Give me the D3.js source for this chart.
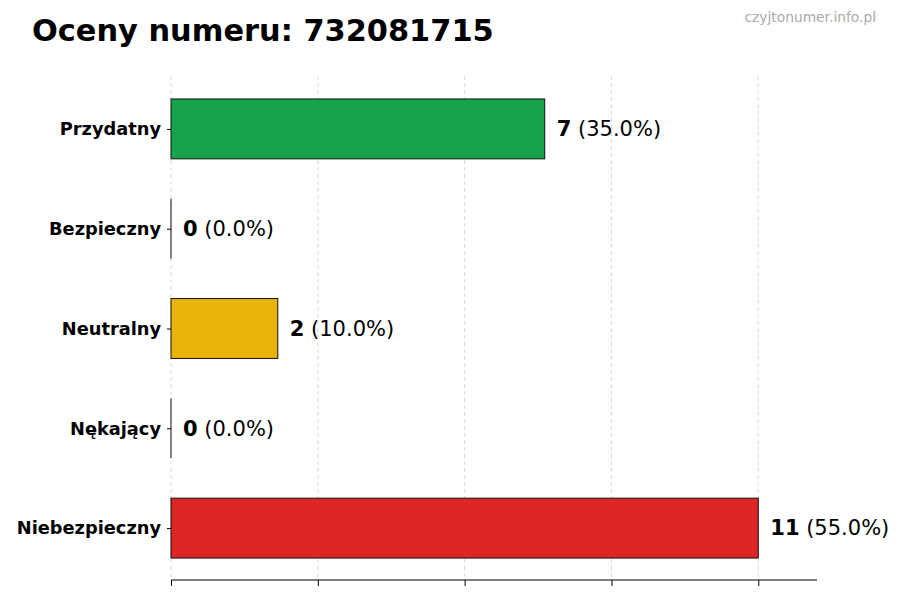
<!DOCTYPE html>
<html><head><meta charset="utf-8">
<script src="https://cdn.jsdelivr.net/npm/d3@7"></script>
<style>body{margin:0;background:#fff}svg{display:block}</style>
</head><body><svg id="c" width="900" height="600"></svg>
<script>
const categories = ["Przydatny","Bezpieczny","Neutralny","Nękający","Niebezpieczny"];
const values = [7,0,2,0,11];
const percents = ["35.0%","0.0%","10.0%","0.0%","55.0%"];
const colors = ["#16a34a","#16a34a","#eab308","#eab308","#dc2626"];
const title = "Oceny numeru: 732081715";
const watermark = "czyjtonumer.info.pl";

const svg = d3.select("#c");
const font = "'DejaVu Sans', sans-serif";
const maxV = d3.max(values);
const x = d3.scaleLinear().domain([0, maxV*1.1]).range([171, 817]);
const y = d3.scaleLinear().domain([-0.53, 4.52]).range([76, 580]);
const barH = y(0.3) - y(-0.3);
const tickVals = d3.range(5).map(i => i*maxV/4);

// grid
svg.append("g").selectAll("line").data(tickVals).join("line")
  .attr("x1", d=>x(d)).attr("x2", d=>x(d)).attr("y1", 76).attr("y2", 580)
  .attr("stroke", "#d0d0d0").attr("stroke-width", 0.8).attr("stroke-dasharray", "4,3");

// bars
const bars = svg.append("g");
bars.selectAll("rect").data(values).join("rect")
  .attr("x", x(0)).attr("y", (d,i)=>y(i)-barH/2)
  .attr("width", d=>x(d)-x(0)).attr("height", barH)
  .attr("fill", (d,i)=>colors[i]).attr("stroke", "#111").attr("stroke-width", 1);
// edges of zero-width bars
bars.selectAll("line").data(values.map((v,i)=>({v,i})).filter(d=>d.v===0)).join("line")
  .attr("x1", d=>x(d.v)).attr("x2", d=>x(d.v))
  .attr("y1", d=>y(d.i)-barH/2).attr("y2", d=>y(d.i)+barH/2)
  .attr("stroke", "#111").attr("stroke-width", 1);

// bottom axis
const xAxis = d3.axisBottom(x).tickValues(tickVals).tickFormat("").tickSizeOuter(0).tickSize(6);
const gx = svg.append("g").attr("transform","translate(0,580)").call(xAxis);
gx.select(".domain").remove();
gx.append("line").attr("x1", x.range()[0]).attr("x2", x.range()[1]).attr("stroke","#000").attr("stroke-width",1.2);
gx.selectAll(".tick line").attr("stroke","#000");

// left axis (ticks only)
const yAxis = d3.axisLeft(y).tickValues(d3.range(categories.length)).tickFormat(i=>categories[i]).tickSize(4).tickPadding(6);
const gy = svg.append("g").attr("transform","translate(171,0)").call(yAxis);
gy.select(".domain").remove();
gy.selectAll(".tick line").attr("stroke","#000");
gy.selectAll(".tick text").attr("font-family",font).attr("font-weight","bold").attr("font-size",17.8).attr("fill","#000");

// value labels
const lab = svg.append("g").selectAll("text").data(values).join("text")
  .attr("x", d=>x(d)+12).attr("y",(d,i)=>y(i)).attr("dy","0.35em")
  .attr("font-family",font).attr("font-size",21).attr("fill","#000");
lab.append("tspan").attr("font-weight","bold").text(d=>d);
lab.append("tspan").text((d,i)=>" ("+percents[i]+")");

// title
svg.append("text").attr("x",32).attr("y",41).attr("font-family",font).attr("font-weight","bold")
  .attr("font-size",30.4).attr("fill","#000").text(title);
svg.append("text").attr("x",876).attr("y",22).attr("text-anchor","end").attr("font-family",font)
  .attr("font-size",13.8).attr("fill","#aaa").text(watermark);
</script></body></html>
